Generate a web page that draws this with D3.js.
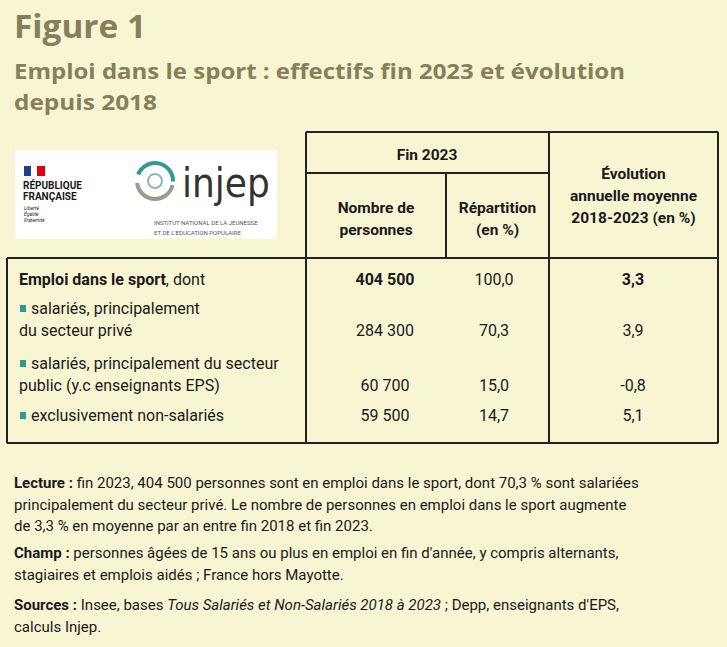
<!DOCTYPE html>
<html><head><meta charset="utf-8">
<script src="https://cdn.jsdelivr.net/npm/d3@7"></script>
<style>body{margin:0;background:#f8f5d3}svg{display:block}</style>
</head><body><svg id="fig"></svg>
<script>
var categories = [
  ["Emploi dans le sport", ", dont"],
  ["salariés, principalement", "du secteur privé"],
  ["salariés, principalement du secteur", "public (y.c enseignants EPS)"],
  ["exclusivement non-salariés"]
];
var nombre = ["404 500", "284 300", "60 700", "59 500"];
var repartition = ["100,0", "70,3", "15,0", "14,7"];
var evolution = ["3,3", "3,9", "-0,8", "5,1"];
var columns = ["nombre", "repartition", "evolution"];

var width = 727, height = 647;
var ink = "#1a1a1a", titleCol = "#85805a", font = "Roboto, 'Noto Sans', sans-serif";
var svg = d3.select("#fig").attr("width", width).attr("height", height)
  .style("background", "#f8f5d3").attr("font-family", font).attr("fill", ink);

function title(txt, y, size, len) {
  svg.append("text").attr("x", 14).attr("y", y).attr("font-size", size).attr("font-weight", 700)
    .attr("font-family", "'Open Sans', sans-serif").attr("fill", titleCol)
    .attr("textLength", len).attr("lengthAdjust", "spacingAndGlyphs").text(txt);
}
title("Figure 1", 38, 32, 132);
title("Emploi dans le sport : effectifs fin 2023 et évolution", 79, 22, 611);
title("depuis 2018", 110, 22, 143);

// logo
var logo = svg.append("g");
logo.append("rect").attr("x", 15).attr("y", 150).attr("width", 262).attr("height", 89).attr("fill", "#fff");
logo.append("rect").attr("x", 24).attr("y", 166).attr("width", 7).attr("height", 10).attr("fill", "#1f3f8f");
logo.append("rect").attr("x", 31).attr("y", 166).attr("width", 6).attr("height", 10).attr("fill", "#fff");
logo.append("rect").attr("x", 37).attr("y", 166).attr("width", 8).attr("height", 10).attr("fill", "#e1000f");
logo.append("text").attr("x", 23).attr("y", 189).attr("font-size", 10).attr("font-weight", 700).text("RÉPUBLIQUE");
logo.append("text").attr("x", 23).attr("y", 200).attr("font-size", 10).attr("font-weight", 700).text("FRANÇAISE");
["Liberté", "Égalité", "Fraternité"].forEach(function(t, i) {
  logo.append("text").attr("x", 24).attr("y", 210 + i * 6).attr("font-size", 5).attr("font-style", "italic").text(t);
});
logo.append("path").attr("d", d3.arc()({innerRadius: 16, outerRadius: 20, startAngle: -1.2, endAngle: 1.6}))
  .attr("transform", "translate(155,181)").attr("fill", "#2f9a8e");
logo.append("path").attr("d", d3.arc()({innerRadius: 16, outerRadius: 20, startAngle: 1.8, endAngle: 4.6}))
  .attr("transform", "translate(155,181)").attr("fill", "#9a9a8e");
logo.append("circle").attr("cx", 155).attr("cy", 181).attr("r", 7).attr("fill", "none").attr("stroke", "#8fb8b0").attr("stroke-width", 2);
logo.append("text").attr("x", 182).attr("y", 197).attr("font-size", 40).attr("font-weight", 300)
  .attr("font-family", "'DejaVu Sans Condensed', sans-serif").attr("fill", "#333").text("injep");
logo.append("text").attr("x", 154).attr("y", 225).attr("font-size", 6).attr("fill", "#555").text("INSTITUT NATIONAL DE LA JEUNESSE");
logo.append("text").attr("x", 154).attr("y", 235).attr("font-size", 6).attr("fill", "#555").text("ET DE L'ÉDUCATION POPULAIRE");

// table geometry
var tLeft = 7, tRight = 718, tTop = 132, tMid = 173, headBot = 258, tBottom = 443;
var edges = {nombre: [306, 446], repartition: [446, 549], evolution: [549, tRight]};
var colX = d3.scaleOrdinal().domain(columns).range([385, 494, 633]);
var rowY = d3.scaleOrdinal().domain(d3.range(4)).range([285, 336, 391, 421]);
var lines = svg.append("g").attr("stroke", "#222").attr("stroke-width", 2);
[[306, tTop, tRight, tTop], [306, tMid, 549, tMid], [tLeft, headBot, tRight, headBot], [tLeft, tBottom, tRight, tBottom],
 [306, tTop, 306, tBottom], [549, tTop, 549, tBottom], [tRight, tTop, tRight, tBottom], [tLeft, headBot, tLeft, tBottom],
 [446, tMid, 446, headBot]].forEach(function(l) {
  lines.append("line").attr("x1", l[0]).attr("y1", l[1]).attr("x2", l[2]).attr("y2", l[3]);
});

var head = svg.append("g").attr("font-weight", 700).attr("font-size", 15.5).attr("text-anchor", "middle");
head.append("text").attr("x", 427).attr("y", 160).text("Fin 2023");
[["nombre", ["Nombre de", "personnes"]], ["repartition", ["Répartition", "(en %)"]]].forEach(function(h) {
  h[1].forEach(function(t, i) { head.append("text").attr("x", d3.mean(edges[h[0]])).attr("y", 213 + i * 22).text(t); });
});
["Évolution", "annuelle moyenne", "2018-2023 (en %)"].forEach(function(t, i) {
  head.append("text").attr("x", d3.mean(edges.evolution)).attr("y", 179 + i * 22).text(t);
});

var body = svg.append("g").attr("font-size", 16);
categories.forEach(function(c, i) {
  var y0 = rowY(i) - (c.length - 1) * 22;
  if (i === 0) {
    var t = body.append("text").attr("x", 19).attr("y", rowY(i));
    t.append("tspan").attr("font-weight", 700).text(c[0]);
    t.append("tspan").text(c[1]);
  } else {
    body.append("rect").attr("x", 20).attr("y", y0 - 9).attr("width", 6).attr("height", 7).attr("fill", "#2f9a8e");
    c.forEach(function(s, j) {
      body.append("text").attr("x", j === 0 ? 31 : 19).attr("y", y0 + j * 22).text(s);
    });
  }
});
var vals = {nombre: nombre, repartition: repartition, evolution: evolution};
columns.forEach(function(col) {
  vals[col].forEach(function(v, i) {
    body.append("text").attr("x", colX(col)).attr("y", rowY(i)).attr("text-anchor", "middle")
      .attr("font-weight", i === 0 && col !== "repartition" ? 700 : 400).text(v);
  });
});

// notes
var notes = [
  [["b", "Lecture : "], ["", "fin 2023, 404 500 personnes sont en emploi dans le sport, dont 70,3 % sont salariées"]],
  [["", "principalement du secteur privé. Le nombre de personnes en emploi dans le sport augmente"]],
  [["", "de 3,3 % en moyenne par an entre fin 2018 et fin 2023."]],
  [["b", "Champ : "], ["", "personnes âgées de 15 ans ou plus en emploi en fin d'année, y compris alternants,"]],
  [["", "stagiaires et emplois aidés ; France hors Mayotte."]],
  [["b", "Sources : "], ["", "Insee, bases "], ["i", "Tous Salariés et Non-Salariés 2018 à 2023"], ["", " ; Depp, enseignants d'EPS,"]],
  [["", "calculs Injep."]]
];
var noteY = [488, 510, 531, 558, 580, 610, 632];
var ng = svg.append("g").attr("font-size", 15);
notes.forEach(function(n, i) {
  var t = ng.append("text").attr("x", 14).attr("y", noteY[i]);
  n.forEach(function(p) {
    t.append("tspan").attr("font-weight", p[0] === "b" ? 700 : 400)
      .attr("font-style", p[0] === "i" ? "italic" : "normal").text(p[1]);
  });
});
</script></body></html>
